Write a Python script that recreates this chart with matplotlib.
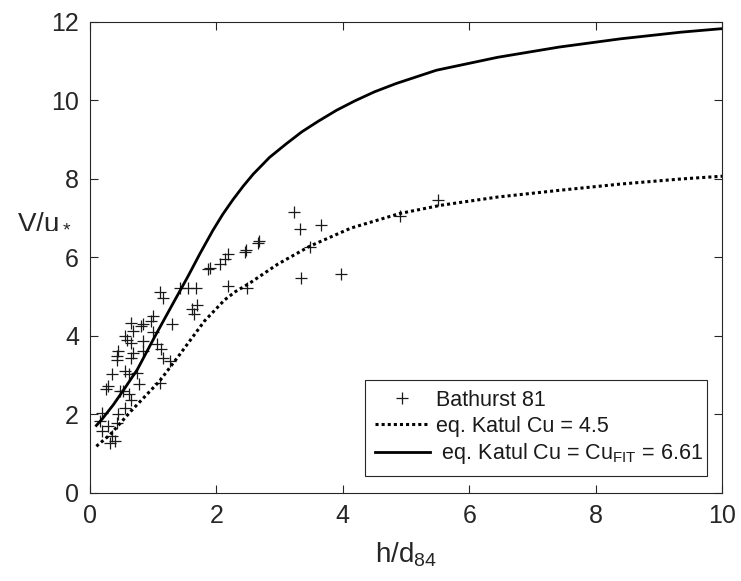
import numpy as np
import matplotlib
matplotlib.use("Agg")
from matplotlib import pyplot as plt

plt.rcParams['font.family'] = ['Liberation Sans', 'DejaVu Sans']
plt.rcParams['mathtext.fontset'] = 'custom'
plt.rcParams['mathtext.rm'] = 'Liberation Sans'
plt.rcParams['mathtext.it'] = 'Liberation Sans:italic'

# Bathurst 81 data (h/d84, V/u*)
bath_x = [5.50, 4.90, 3.23, 3.32, 3.65, 3.48, 3.34, 3.97, 2.68, 2.65,
          2.46, 2.45, 2.19, 2.13, 2.06, 1.90, 1.87, 2.19, 2.48, 1.68,
          1.55, 1.42, 1.10, 1.15, 1.61, 1.65, 1.69, 1.29, 1.10, 1.00,
          0.97, 0.84, 0.81, 0.65, 0.68, 0.55, 0.58, 0.65, 0.84, 1.00,
          1.06, 1.13, 1.16, 1.26, 0.45, 0.42, 0.42, 0.68, 0.65, 0.84,
          0.55, 0.61, 0.35, 0.74, 0.77, 0.29, 0.26, 0.48, 0.52, 0.61,
          0.65, 0.55, 0.45, 0.19, 0.16, 0.42, 0.29, 0.19, 0.35, 0.39,
          0.32]
bath_y = [7.46, 7.06, 7.15, 6.72, 6.83, 6.26, 5.47, 5.59, 6.43, 6.38,
          6.19, 6.13, 6.09, 5.96, 5.83, 5.74, 5.70, 5.28, 5.23, 5.23,
          5.23, 5.23, 5.11, 4.98, 4.68, 4.55, 4.80, 4.30, 2.81, 4.51,
          4.38, 4.30, 4.26, 4.34, 4.13, 4.00, 3.91, 3.83, 3.87, 4.09,
          3.79, 3.66, 3.45, 3.36, 3.62, 3.49, 3.40, 3.57, 3.45, 3.62,
          3.11, 3.02, 3.02, 3.06, 2.77, 2.72, 2.64, 2.60, 2.60, 2.51,
          2.38, 2.17, 2.00, 2.04, 1.83, 1.79, 1.70, 1.57, 1.45, 1.32,
          1.28]

# eq. Katul, Cu = 4.5
k45_x = [0.1, 0.32, 0.65, 1.10, 1.42, 1.81, 2.13, 2.30, 2.52, 2.97,
         3.48, 4.13, 4.90, 5.55, 6.45, 7.42, 8.39, 9.35, 10.0]
k45_y = [1.19, 1.49, 2.09, 2.85, 3.53, 4.38, 4.92, 5.13, 5.34, 5.83,
         6.29, 6.75, 7.12, 7.33, 7.54, 7.71, 7.87, 8.00, 8.07]

# eq. Katul, Cu = Cu_FIT = 6.61
kfit_x = [0.1, 0.19, 0.37, 0.55, 0.75, 1.03, 1.32, 1.55, 1.74, 1.94,
          2.10, 2.26, 2.42, 2.58, 2.84, 3.10, 3.35, 3.61, 3.90, 4.19,
          4.50, 4.84, 5.48, 6.45, 7.42, 8.39, 9.35, 10.0]
kfit_y = [1.72, 1.88, 2.25, 2.67, 3.15, 4.00, 4.85, 5.52, 6.10, 6.68,
          7.10, 7.47, 7.81, 8.12, 8.55, 8.89, 9.20, 9.47, 9.75, 9.99,
          10.22, 10.43, 10.77, 11.10, 11.36, 11.57, 11.74, 11.83]

gray = '#262626'

fig = plt.figure(figsize=(7.41, 5.81), dpi=100)
ax = fig.add_axes([0.1215, 0.1515, 0.853, 0.8107])

ax.plot(bath_x, bath_y, '+', color='#1a1a1a', markersize=9, markeredgewidth=0.9,
        label='Bathurst 81')
ax.plot(k45_x, k45_y, color='black', lw=2.2, linestyle=(0, (1, 1)),
        label='eq. Katul Cu = 4.5')
ax.plot(kfit_x, kfit_y, color='black', lw=2.0,
        label=' eq. Katul Cu = Cu$_{\\mathrm{FIT}}$ = 6.61')

ax.set_xlim(0, 10)
ax.set_ylim(0, 12)
ax.set_xticks([0, 2, 4, 6, 8, 10])
ax.set_yticks([0, 2, 4, 6, 8, 10, 12])
ax.tick_params(direction='in', top=True, right=True, length=6, width=0.8,
               labelsize=18, colors=gray, pad=8)
for s in ax.spines.values():
    s.set_color(gray)
    s.set_linewidth(0.8)

ax.set_xlabel('h/d$_{\\mathrm{84}}$', fontsize=20, color=gray, labelpad=9)
fig.text(0.06, 0.62, 'V/u$_*$', fontsize=20, color=gray, ha='center', va='center')

leg = ax.legend(loc='lower left', bbox_to_anchor=(0.435, 0.036, 0.541, 0.21),
                mode='expand', borderaxespad=0, fontsize=15.5, frameon=True,
                fancybox=False, edgecolor=gray, framealpha=1, handlelength=2.55,
                borderpad=0.45, labelspacing=0.22, handletextpad=0.28)
leg.get_frame().set_linewidth(0.8)
for t in leg.get_texts():
    t.set_color('#1a1a1a')

fig.savefig('out.png', dpi=100)
